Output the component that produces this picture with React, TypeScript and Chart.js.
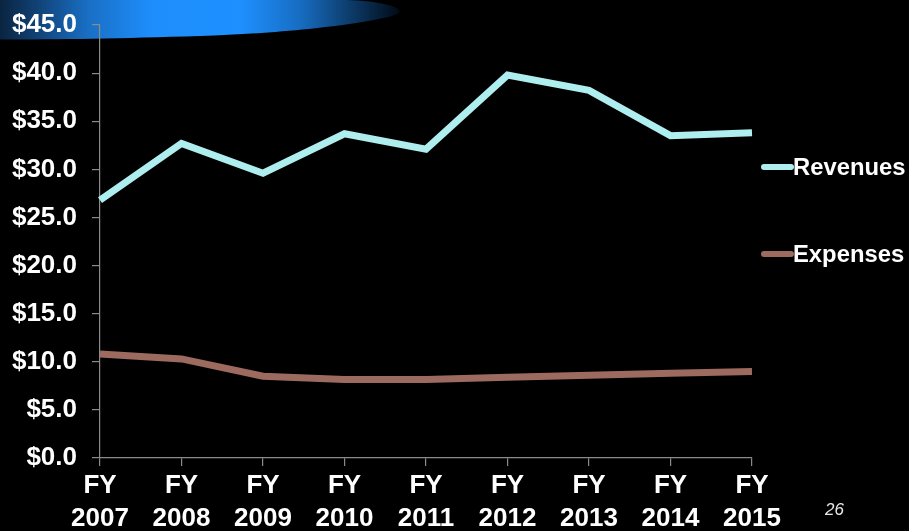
import React, { useEffect, useRef } from "react";
import { Chart, registerables } from "chart.js";

Chart.register(...registerables);

const years: string[] = ["2007", "2008", "2009", "2010", "2011", "2012", "2013", "2014", "2015"];
const revenues: number[] = [26.8, 32.7, 29.6, 33.7, 32.1, 39.8, 38.2, 33.5, 33.8];
const expenses: number[] = [10.8, 10.3, 8.5, 8.15, 8.15, 8.4, 8.6, 8.8, 9.0];
const seriesNames: string[] = ["Revenues", "Expenses"];
const seriesColors: string[] = ["#AFEEEE", "#9C6A5E"];
const yTickValues: number[] = [0, 5, 10, 15, 20, 25, 30, 35, 40, 45];
const pageNumber = "26";

const FONT = "Arial, 'Liberation Sans', Helvetica, sans-serif";

export default function App() {
  const canvasRef = useRef<HTMLCanvasElement | null>(null);

  useEffect(() => {
    document.body.style.margin = "0";
    document.body.style.background = "#000";
    const canvas = canvasRef.current;
    if (!canvas) return;
    const chart = new Chart(canvas, {
      type: "line",
      data: {
        labels: years.map((y) => ["FY", y]),
        datasets: [
          {
            label: seriesNames[0],
            data: revenues,
            borderColor: seriesColors[0],
            backgroundColor: seriesColors[0],
            borderWidth: 7,
            pointRadius: 0,
            tension: 0,
            borderJoinStyle: "miter",
          },
          {
            label: seriesNames[1],
            data: expenses,
            borderColor: seriesColors[1],
            backgroundColor: seriesColors[1],
            borderWidth: 7,
            pointRadius: 0,
            tension: 0,
            borderJoinStyle: "miter",
          },
        ],
      },
      options: {
        responsive: false,
        animation: false,
        layout: { padding: { left: 0, top: 25, right: 157, bottom: 0 } },
        plugins: {
          legend: { display: false },
          tooltip: { enabled: false },
        },
        scales: {
          x: {
            type: "category",
            offset: false,
            grid: {
              display: true,
              drawOnChartArea: false,
              drawTicks: true,
              tickLength: 8,
              color: "#8a8a8a",
              lineWidth: 1.2,
            },
            border: { display: true, color: "#8a8a8a", width: 1.2 },
            ticks: {
              color: "#ffffff",
              font: { family: FONT, size: 26, weight: "bold", lineHeight: 1.25 },
              maxRotation: 0,
              minRotation: 0,
              autoSkip: false,
              padding: 4,
            },
            afterFit: (s: any) => {
              s.height = 73;
              s.paddingLeft = 0;
              s.paddingRight = 0;
            },
          },
          y: {
            min: 0,
            max: 45,
            afterBuildTicks: (s: any) => {
              s.ticks = yTickValues.map((v) => ({ value: v }));
            },
            grid: {
              display: true,
              drawOnChartArea: false,
              drawTicks: true,
              tickLength: 8,
              color: "#8a8a8a",
              lineWidth: 1.2,
            },
            border: { display: true, color: "#8a8a8a", width: 1.2 },
            ticks: {
              color: "#ffffff",
              font: { family: FONT, size: 26, weight: "bold" },
              padding: 15,
              callback: (v: any) => "$" + Number(v).toFixed(1),
            },
            afterFit: (s: any) => {
              s.width = 100;
              s.paddingTop = 0;
              s.paddingBottom = 0;
            },
          },
        },
      },
    });
    return () => chart.destroy();
  }, []);

  const legendRows = [
    { name: seriesNames[0], color: seriesColors[0], y: 167 },
    { name: seriesNames[1], color: seriesColors[1], y: 254 },
  ];

  return (
    <div
      style={{
        position: "relative",
        width: 909,
        height: 531,
        background: "#000",
        overflow: "hidden",
        fontFamily: FONT,
      }}
    >
      <svg
        width={909}
        height={531}
        style={{ position: "absolute", left: 0, top: 0 }}
      >
        <defs>
          <linearGradient id="blueGlow" x1="0" y1="0" x2="400" y2="0" gradientUnits="userSpaceOnUse">
            <stop offset="0" stopColor="#0a2440" />
            <stop offset="0.1" stopColor="#11447a" />
            <stop offset="0.22" stopColor="#196fc4" />
            <stop offset="0.38" stopColor="#1E8EFC" />
            <stop offset="0.6" stopColor="#1E90FF" />
            <stop offset="0.75" stopColor="#176dc2" />
            <stop offset="0.88" stopColor="#0c3a68" />
            <stop offset="1" stopColor="#010a14" />
          </linearGradient>
        </defs>
        <path
          d="M0,0 L340,0 C375,0 400,6 400,12 C395,20 300,33 200,36 C120,38.5 60,39.5 0,39.5 Z"
          fill="url(#blueGlow)"
        />
      </svg>
      <canvas
        ref={canvasRef}
        width={909}
        height={531}
        style={{ position: "absolute", left: 0, top: 0, width: 909, height: 531 }}
      />
      {legendRows.map((r) => (
        <div
          key={r.name}
          style={{
            position: "absolute",
            left: 761,
            top: r.y - 15,
            height: 30,
            display: "flex",
            alignItems: "center",
          }}
        >
          <div
            style={{
              width: 33,
              height: 6,
              borderRadius: 3,
              background: r.color,
            }}
          />
          <span
            style={{
              color: "#fff",
              fontWeight: "bold",
              fontSize: 23.8,
              lineHeight: "30px",
              marginLeft: -1,
              whiteSpace: "nowrap",
            }}
          >
            {r.name}
          </span>
        </div>
      ))}
      <div
        style={{
          position: "absolute",
          left: 825,
          top: 500,
          color: "#e6e6e6",
          fontStyle: "italic",
          fontSize: 17,
          lineHeight: "20px",
        }}
      >
        {pageNumber}
      </div>
    </div>
  );
}
